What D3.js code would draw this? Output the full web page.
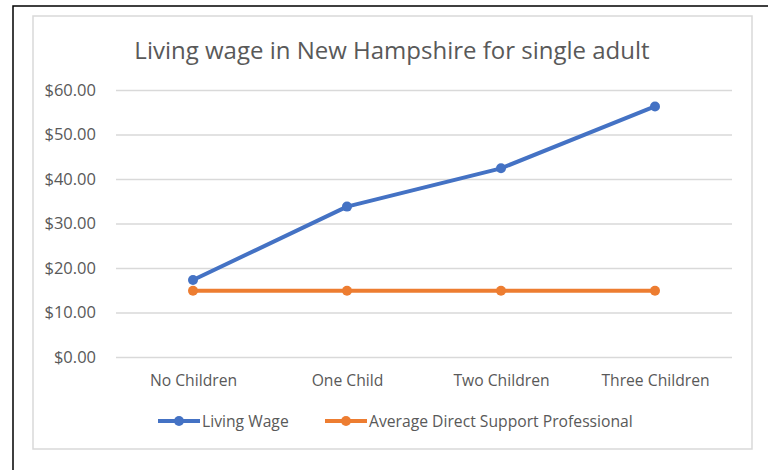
<!DOCTYPE html>
<html><head><meta charset="utf-8">
<script src="https://cdn.jsdelivr.net/npm/d3@7"></script>
<style>
body{margin:0;background:#fff;}
svg{display:block;font-family:"Open Sans",sans-serif;}
</style></head>
<body><svg id="c" width="768" height="470"></svg>
<script>
const categories = ["No Children","One Child","Two Children","Three Children"];
const livingWage = [17.3, 33.8, 42.4, 56.3];
const dspWage = [14.9, 14.9, 14.9, 14.9];
const yTicks = [0,10,20,30,40,50,60];
const seriesNames = ["Living Wage","Average Direct Support Professional"];
const colors = ["#4472C4","#ED7D31"];

const svg = d3.select("#c");
// outer black frame (top and left visible)
svg.append("rect").attr("x",13).attr("y",6).attr("width",800).attr("height",500)
  .attr("fill","none").attr("stroke","#000").attr("stroke-width",1.5);
// chart area frame
svg.append("rect").attr("x",33).attr("y",16).attr("width",719).attr("height",433)
  .attr("fill","#fff").attr("stroke","#d9d9d9").attr("stroke-width",1.5);

const x = d3.scalePoint().domain(categories).range([116,732]).padding(0.5);
const y = d3.scaleLinear().domain([0,60]).range([357,90]);

svg.append("text").attr("x",392).attr("y",59).attr("text-anchor","middle")
  .attr("font-size",24).attr("fill","#595959").text("Living wage in New Hampshire for single adult");

const yAxis = d3.axisLeft(y).tickValues(yTicks).tickSize(-(732-116)).tickPadding(20)
  .tickFormat(d=>"$"+d3.format(".2f")(d));
const gy = svg.append("g").attr("transform","translate(116,0)").call(yAxis);
gy.select(".domain").remove();
gy.selectAll(".tick line").attr("stroke","#d9d9d9").attr("stroke-width",1.3);
gy.selectAll(".tick text").attr("fill","#595959").attr("font-size",16.5).attr("font-family","Open Sans");

const xAxis = d3.axisBottom(x).tickSize(0).tickPadding(18);
const gx = svg.append("g").attr("transform","translate(0,357)").call(xAxis);
gx.select(".domain").remove();
gx.selectAll(".tick text").attr("fill","#595959").attr("font-size",15.7).attr("font-family","Open Sans");

const series = [livingWage, dspWage];
const line = d3.line().x((d,i)=>x(categories[i])).y(d=>y(d));
series.forEach((s,k)=>{
  svg.append("path").datum(s).attr("d",line).attr("fill","none")
    .attr("stroke",colors[k]).attr("stroke-width",4).attr("stroke-linejoin","round");
  svg.selectAll(null).data(s).enter().append("circle")
    .attr("cx",(d,i)=>x(categories[i])).attr("cy",d=>y(d)).attr("r",5).attr("fill",colors[k]);
});

// legend
const leg = [{x:158,name:seriesNames[0],c:colors[0]},{x:325,name:seriesNames[1],c:colors[1]}];
leg.forEach(l=>{
  svg.append("line").attr("x1",l.x).attr("x2",l.x+42).attr("y1",421).attr("y2",421)
    .attr("stroke",l.c).attr("stroke-width",4);
  svg.append("circle").attr("cx",l.x+21).attr("cy",421).attr("r",5).attr("fill",l.c);
  svg.append("text").attr("x",l.x+44).attr("y",426.5).attr("font-size",15.7)
    .attr("fill","#595959").text(l.name);
});
</script></body></html>
